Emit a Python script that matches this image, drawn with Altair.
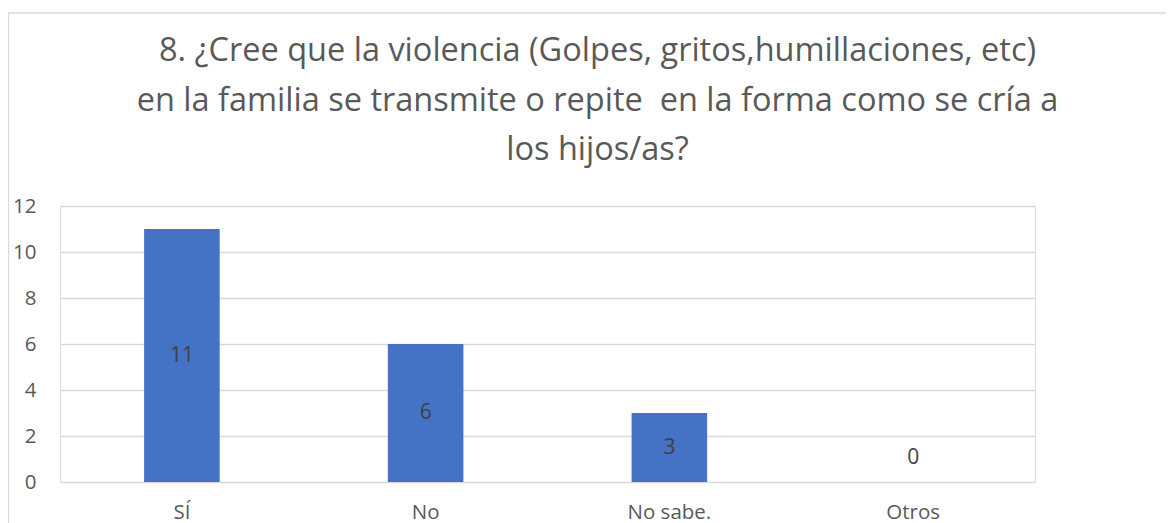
import altair as alt
import pandas as pd

categories = ["SÍ", "No", "No sabe.", "Otros"]
values = [11, 6, 3, 0]
y_ticks = [0, 2, 4, 6, 8, 10, 12]
title_lines = [
    "8. ¿Cree que la violencia (Golpes, gritos,humillaciones, etc)",
    "en la familia se transmite o repite\u00a0 en la forma como se cría a",
    "los hijos/as?",
]

df = pd.DataFrame({"cat": categories, "val": values})

FONT = "Open Sans"
GREY = "#595959"

x = alt.X("cat:N", sort=categories, title=None,
          scale=alt.Scale(paddingInner=0.69, paddingOuter=0.345),
          axis=alt.Axis(labelAngle=0, labelFontSize=20.5, labelColor=GREY, labelFont=FONT,
                        ticks=False, domain=False, labelPadding=20, grid=False))
y = alt.Y("val:Q", title=None,
          scale=alt.Scale(domain=[0, 12], nice=False),
          axis=alt.Axis(values=y_ticks, labelFontSize=20.5, labelColor=GREY, labelFont=FONT,
                        ticks=False, domain=False, labelPadding=24, grid=True,
                        gridColor="#d9d9d9", gridWidth=1.3))

base1 = alt.Chart(df).transform_filter(alt.datum.cat == "SÍ")

frame = base1.mark_rect(fillOpacity=0, stroke="#d9d9d9", strokeWidth=1.3).encode(
    x=alt.value(-51.5), x2=alt.value(1300), y=alt.value(-193), y2=alt.value(400)
)

title_marks = [
    base1.mark_text(text=line, fontSize=32.5, font=FONT, color=GREY,
                    align="center", baseline="alphabetic").encode(
        x=alt.value(537.5), y=alt.value(-145 + 49.5 * i)
    )
    for i, line in enumerate(title_lines)
]

bars = alt.Chart(df).mark_bar(color="#4472c4").encode(x=x, y=y)

labels = alt.Chart(df).transform_calculate(
    mid="datum.val > 0 ? datum.val / 2 : 1.05"
).mark_text(fontSize=21, color="#404040", font=FONT, baseline="middle").encode(
    x=alt.X("cat:N", sort=categories),
    y=alt.Y("mid:Q"),
    text="val:Q",
)

chart = alt.layer(frame, bars, labels, *title_marks).properties(
    width=975, height=276,
    autosize=alt.AutoSizeParams(type="none"),
    padding={"left": 52, "top": 198, "right": 131, "bottom": 50},
).configure_view(stroke=None).configure(background="white")

chart.save("out.html", embed_options={"renderer": "svg", "actions": False})
